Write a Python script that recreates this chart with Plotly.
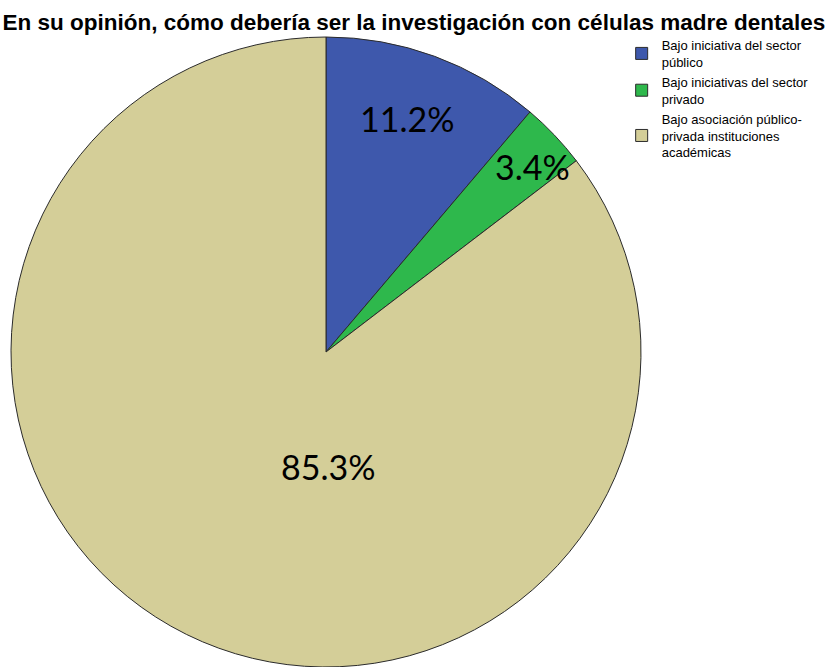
import plotly.graph_objects as go

# Survey answers: how dental stem-cell research should be organised
categories = [
    "Bajo iniciativa del sector<br>público",
    "Bajo iniciativas del sector<br>privado",
    "Bajo asociación público-<br>privada instituciones<br>académicas",
]
percentages = [11.2, 3.4, 85.3]
slice_colors = ["#3E58AC", "#2EB84C", "#D4CE98"]

# Where each percentage label sits (paper coordinates)
label_x = [0.490, 0.642, 0.395]
label_y = [0.823, 0.751, 0.301]

fig = go.Figure(
    go.Pie(
        labels=categories,
        values=percentages,
        sort=False,
        direction="clockwise",
        rotation=0,
        marker=dict(colors=slice_colors, line=dict(color="#2b2b2b", width=1)),
        textinfo="none",
        hoverinfo="skip",
        domain=dict(x=[11 / 830, 641 / 830], y=[0, 1 - 37 / 667]),
    )
)

for v, x, y in zip(percentages, label_x, label_y):
    fig.add_annotation(
        x=x, y=y, xref="paper", yref="paper",
        xanchor="center", yanchor="middle",
        text=f"{v}%", showarrow=False,
        font=dict(family="Lato", size=34, color="#000000"),
    )

fig.update_layout(
    width=830,
    height=667,
    margin=dict(l=0, r=0, t=0, b=0),
    paper_bgcolor="white",
    plot_bgcolor="white",
    title=dict(
        text="<b>En su opinión, cómo debería ser la investigación con células madre dentales</b>",
        x=0.003, xanchor="left", y=1 - 22 / 667, yanchor="middle",
        font=dict(family="Liberation Sans", size=22.5, color="#000000"),
    ),
    legend=dict(
        x=0.749, y=0.955, xanchor="left", yanchor="top",
        font=dict(family="Liberation Sans", size=13, color="#000000"),
        bgcolor="rgba(0,0,0,0)",
        itemwidth=30,
        tracegroupgap=0,
    ),
)

fig.write_html("out.html")
